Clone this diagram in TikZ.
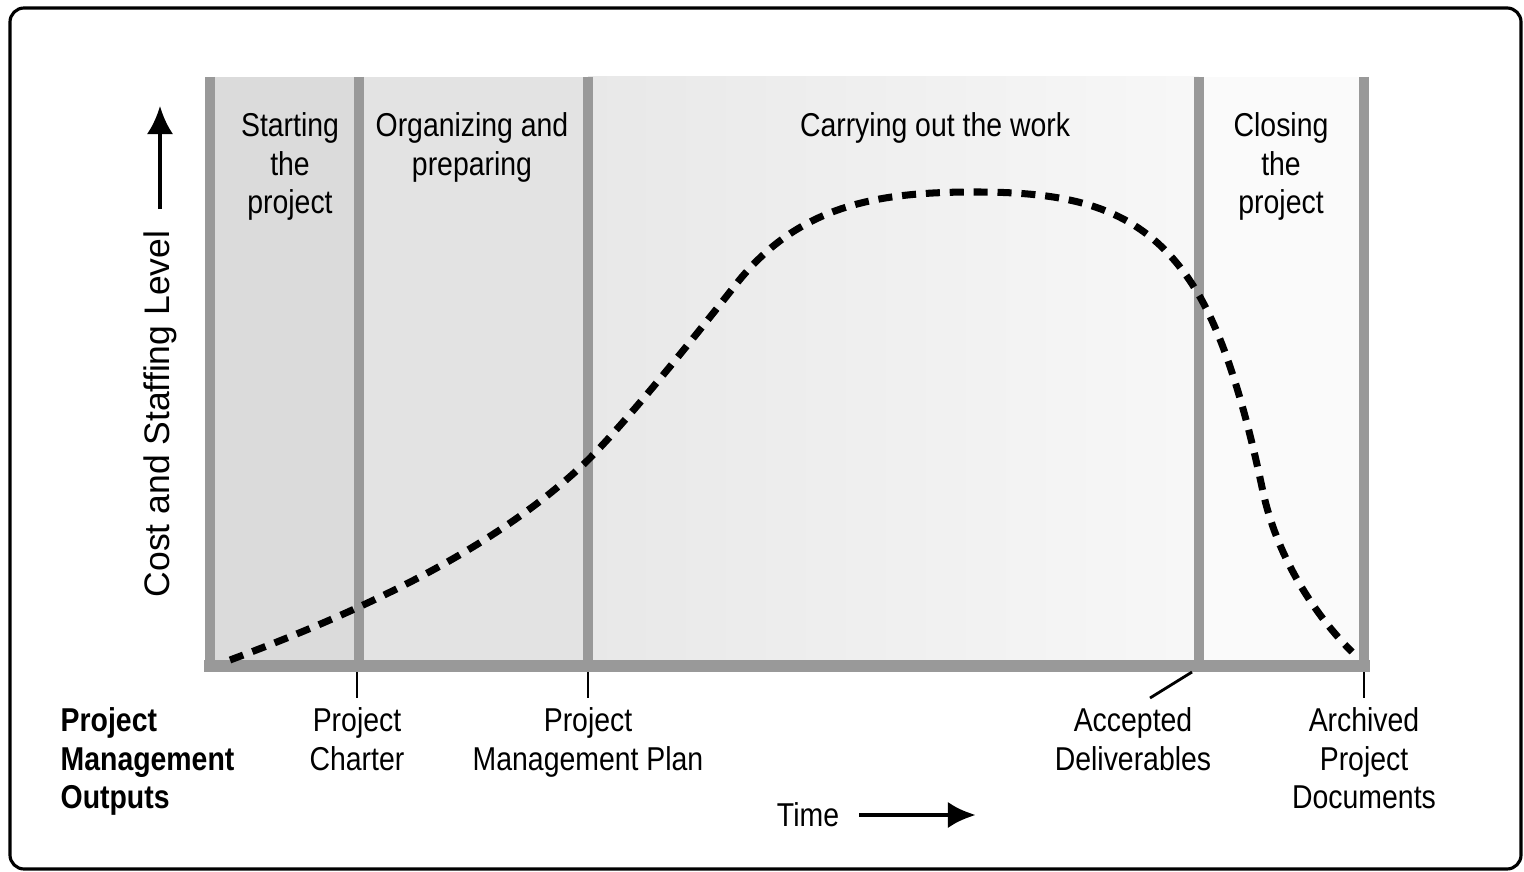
\documentclass[tikz,border=0pt]{standalone}
\usepackage{fontspec}
\setmainfont{Liberation Sans}[FakeStretch=0.86]
\newfontfamily\axisfont{Liberation Sans}
\usetikzlibrary{arrows.meta}

\begin{document}
\begin{tikzpicture}[x=0.1mm,y=-0.1mm,
    label/.style={align=center,inner sep=0pt,anchor=north,font=\fontsize{9.4}{10.95}\selectfont},
    bar/.style={draw=black!40,line width=2.9pt},
    tick/.style={line width=0.8pt},
    curve/.style={line width=2pt,dash pattern=on 4pt off 2.8pt},
    arrow/.style={-{Latex[length=8pt,width=7.5pt]}}]
\useasboundingbox (0,0) rectangle (1524,872);
\draw[line width=0.9pt,rounded corners=4pt] (10,8) rectangle (1521,869);

% phases
\fill[black!14] (210,77) rectangle (359,666);
\fill[black!11] (359,77) rectangle (588,666);
\shade[left color=black!9,right color=black!3] (588,77) rectangle (1199,666);
\fill[black!2] (1199,77) rectangle (1364,666);
\foreach \n/\x in {a/210,b/359,c/588,d/1199,e/1364} {
    \coordinate (top\n) at (\x,77);
    \coordinate (bot\n) at (\x,666);
    \draw[bar] (top\n) -- (bot\n);
}
\draw[bar,line width=3.2pt,line cap=rect] (bota) -- (bote);

% cost curve
\draw[curve] (230,660) .. controls (370,608) and (500,545) .. (588,460)
    .. controls (630,418) and (700,330) .. (737,283)
    .. controls (800,204) and (880,192) .. (975,192)
    .. controls (1080,192) and (1150,210) .. (1200,297)
    .. controls (1230,350) and (1250,430) .. (1263,492)
    .. controls (1276,552) and (1310,610) .. (1352,652);

\node[label] (start) at (290,112) {Starting\\the\\project};
\node[label] (organize) at (472,112) {Organizing and\\preparing};
\node[label] (work) at (935,112) {Carrying out the work};
\node[label] (close) at (1281,112) {Closing\\the\\project};

% axes
\node[rotate=90,inner sep=0pt,font=\axisfont\fontsize{10.1}{12}\selectfont] (cost) at (160,414) {Cost and Staffing Level};
\coordinate (costtip) at (160,106);
\draw[arrow,line width=1.1pt,shorten <=6pt] (cost) -- (costtip);
\node[inner sep=0pt,font=\fontsize{9.4}{10.95}\selectfont] (time) at (808,815) {Time};
\coordinate (timetip) at (976,815);
\draw[arrow,line width=1.4pt,shorten <=5.5pt] (time) -- (timetip);

% outputs
\node[label,anchor=north west,align=left,font=\bfseries\fontsize{9.4}{10.95}\selectfont] (outputs) at (60,707) {Project\\Management\\Outputs};
\node[label] (charter) at (357,707) {Project\\Charter};
\node[label] (plan) at (588,707) {Project\\Management Plan};
\node[label] (accepted) at (1133,707) {Accepted\\Deliverables};
\node[label] (archived) at (1364,707) {Archived\\Project\\Documents};
\coordinate (tb1) at (357,672); \coordinate (tb2) at (357,698);
\coordinate (tc1) at (588,672); \coordinate (tc2) at (588,698);
\coordinate (td1) at (1192,672); \coordinate (td2) at (1150,698);
\coordinate (te1) at (1364,672); \coordinate (te2) at (1364,698);
\draw[tick] (tb1) -- (tb2);
\draw[tick] (tc1) -- (tc2);
\draw[tick] (td1) -- (td2);
\draw[tick] (te1) -- (te2);
\end{tikzpicture}
\end{document}
